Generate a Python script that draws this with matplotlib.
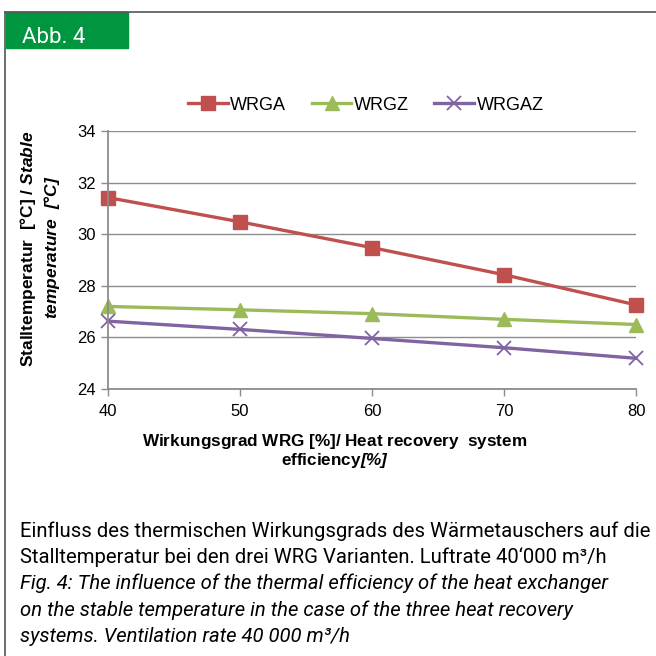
import numpy as np
import matplotlib
matplotlib.use("Agg")
import matplotlib.pyplot as plt
from matplotlib.patches import Rectangle
from matplotlib.lines import Line2D

# ── data ──────────────────────────────────────────────────────────────────────
efficiency = [40, 50, 60, 70, 80]
wrga  = [31.42, 30.48, 29.48, 28.43, 27.26]
wrgz  = [27.20, 27.07, 26.92, 26.70, 26.50]
wrgaz = [26.63, 26.31, 25.96, 25.60, 25.19]
series_names = ["WRGA", "WRGZ", "WRGAZ"]
y_ticks = [24, 26, 28, 30, 32, 34]

# ── style ─────────────────────────────────────────────────────────────────────
plt.rcParams["font.family"] = ["Liberation Sans", "DejaVu Sans"]
plt.rcParams["mathtext.fontset"] = "custom"
plt.rcParams["mathtext.rm"] = "Liberation Sans"
plt.rcParams["mathtext.bf"] = "Liberation Sans:bold"
plt.rcParams["mathtext.it"] = "Liberation Sans:italic"
plt.rcParams["mathtext.bfit"] = "Liberation Sans:italic:bold"

RED, GREEN, PURPLE = "#C0504D", "#9BBB59", "#8064A2"
GRID = "#8c8c8c"
W = H = 656

fig = plt.figure(figsize=(6.56, 6.56), dpi=100)

def px(x, y):
    return x / W, 1 - y / H

# frame + "Abb. 4" tab
fig.add_artist(Line2D([5 / W, 1], [1 - 12 / H] * 2, color="#555555", lw=1.2))
fig.add_artist(Line2D([5 / W] * 2, [0, 1 - 12 / H], color="#555555", lw=1.2))
fig.add_artist(Rectangle(px(6, 48), 122 / W, 36 / H, color="#009640",
                         transform=fig.transFigure))
fig.text(*px(22, 43), "Abb. 4", color="white", fontsize=16, family="Roboto",
         va="baseline", ha="left")

# ── chart ─────────────────────────────────────────────────────────────────────
ax = fig.add_axes([108 / W, 1 - 389 / H, 528 / W, 258 / H])
ax.plot(efficiency, wrga, color=RED, lw=2.4, marker="s", ms=10, label=series_names[0])
ax.plot(efficiency, wrgz, color=GREEN, lw=2.4, marker="^", ms=10, label=series_names[1])
ax.plot(efficiency, wrgaz, color=PURPLE, lw=2.4, marker="x", ms=10, mew=1.3,
        label=series_names[2])

ax.set_xlim(40, 80)
ax.set_ylim(24, 34)
ax.set_xticks(efficiency)
ax.set_yticks(y_ticks)
ax.yaxis.grid(True, color=GRID, lw=1)
ax.set_axisbelow(True)
for s in ["top", "right"]:
    ax.spines[s].set_visible(False)
for s in ["left", "bottom"]:
    ax.spines[s].set_color(GRID)
    ax.spines[s].set_linewidth(1.3)
ax.tick_params(axis="both", colors=GRID, labelcolor="black", labelsize=12,
               length=5, width=1)
ax.tick_params(axis="x", pad=6)
for ln in ax.lines:
    ln.set_clip_on(False)

ax.legend(loc="center", bbox_to_anchor=px(366, 105), bbox_transform=fig.transFigure,
          ncol=3, frameon=False, fontsize=13, handlelength=2.2, columnspacing=1.4,
          handletextpad=0.15)

# axis labels (mixed bold / bold-italic)
fig.text(*px(28, 249), r"$\mathbf{Stalltemperatur\ \ [°C]\ /\ }\mathbfit{Stable}$",
         rotation=90, ha="center", va="center", fontsize=12.5)
fig.text(*px(52, 247), r"$\mathbfit{temperature\ \ [°C]}$",
         rotation=90, ha="center", va="center", fontsize=12.5)
fig.text(*px(335, 446), r"$\mathbf{Wirkungsgrad\ WRG\ [\%]/\ Heat\ recovery\ \ system}$",
         ha="center", va="baseline", fontsize=12.3)
fig.text(*px(335, 465), r"$\mathbf{efficiency}\mathbfit{[\%]}$",
         ha="center", va="baseline", fontsize=12.3)

# ── caption ───────────────────────────────────────────────────────────────────
caption = [
    ("Einfluss des thermischen Wirkungsgrads des Wärmetauschers auf die", "normal"),
    ("Stalltemperatur bei den drei WRG Varianten. Luftrate 40‘000 m³/h", "normal"),
    ("Fig. 4: The influence of the thermal efficiency of the heat exchanger", "italic"),
    ("on the stable temperature in the case of the three heat recovery", "italic"),
    ("systems. Ventilation rate 40 000 m³/h", "italic"),
]
for i, (line, style) in enumerate(caption):
    fig.text(*px(20, 537 + 26.2 * i), line, family="Roboto", style=style,
             fontsize=14.6, va="baseline", ha="left")

fig.savefig("out.png", dpi=100)
